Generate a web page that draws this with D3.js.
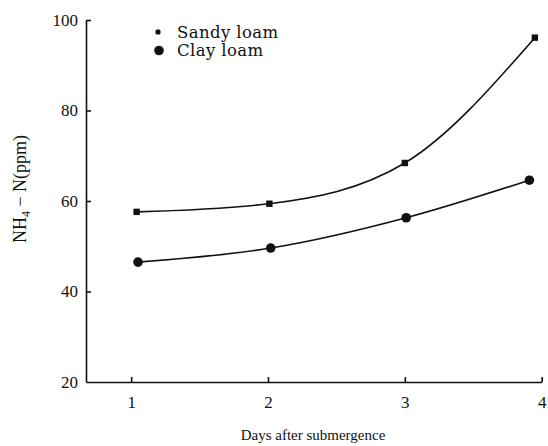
<!DOCTYPE html>
<html>
<head>
<meta charset="utf-8">
<script src="https://cdn.jsdelivr.net/npm/d3@7"></script>
<style>
  body { margin: 0; background: #fff; }
  svg text { font-family: "Liberation Serif", "Times New Roman", serif; fill: #111; }
  .axis path, .axis line { stroke: #111; stroke-width: 1.6; }
</style>
</head>
<body>
<div id="chart"></div>
<script>
// values (days are where the marks sit, not exactly on the ticks)
const dayTicks = [1, 2, 3, 4];
const nh4Ticks = [20, 40, 60, 80, 100];
const sandyDays = [1.04, 2.01, 3.00, 3.95];
const sandyNH4 = [57.6, 59.4, 68.4, 96.1];
const clayDays = [1.05, 2.02, 3.01, 3.91];
const clayNH4 = [46.5, 49.6, 56.3, 64.6];
const seriesNames = ["Sandy loam", "Clay loam"];

const width = 548, height = 446;

const svg = d3.select("#chart").append("svg")
    .attr("width", width)
    .attr("height", height);

const x = d3.scaleLinear()
    .domain([0.67, 4])
    .range([86, 541.7]);

const y = d3.scaleLinear()
    .domain([20, 100])
    .range([382, 20]);

const xAxis = d3.axisBottom(x)
    .tickValues(dayTicks)
    .tickFormat(d3.format("d"))
    .tickSizeInner(-5)
    .tickSizeOuter(0)
    .tickPadding(14);

const yAxis = d3.axisLeft(y)
    .tickValues(nh4Ticks)
    .tickSizeInner(-5)
    .tickSizeOuter(0)
    .tickPadding(8);

svg.append("g")
    .attr("class", "axis")
    .attr("transform", `translate(0, ${y(20)})`)
    .call(xAxis)
    .call(g => g.selectAll("text").style("font-size", "17px"));

svg.append("g")
    .attr("class", "axis")
    .attr("transform", `translate(${x(0.67)}, 0)`)
    .call(yAxis)
    .call(g => g.selectAll("text").style("font-size", "17px"))
    // no tick on the corner
    .call(g => g.selectAll(".tick").filter(d => d === 20).select("line").remove());

// axis titles
svg.append("text")
    .attr("x", 313)
    .attr("y", 440)
    .attr("text-anchor", "middle")
    .style("font-size", "15px")
    .text("Days after submergence");

const yTitle = svg.append("text")
    .attr("transform", "translate(26, 189) rotate(-90)")
    .attr("text-anchor", "middle")
    .style("font-size", "18px");
yTitle.append("tspan").text("NH");
yTitle.append("tspan").attr("dy", 4).style("font-size", "12px").text("4");
yTitle.append("tspan").attr("dy", -4).text(" \u2212 N(ppm)");

const line = d3.line()
    .x(d => x(d[0]))
    .y(d => y(d[1]))
    .curve(d3.curveMonotoneX);

const sandy = d3.zip(sandyDays, sandyNH4);
const clay = d3.zip(clayDays, clayNH4);

[sandy, clay].forEach(pts => {
    svg.append("path")
        .datum(pts)
        .attr("d", line)
        .attr("fill", "none")
        .attr("stroke", "#111")
        .attr("stroke-width", 1.6);
});

svg.selectAll(".sq")
    .data(sandy)
    .enter().append("rect")
    .attr("class", "sq")
    .attr("x", d => x(d[0]) - 3.2)
    .attr("y", d => y(d[1]) - 3.2)
    .attr("width", 6.4)
    .attr("height", 6.4)
    .attr("fill", "#111");

svg.selectAll(".dot")
    .data(clay)
    .enter().append("circle")
    .attr("class", "dot")
    .attr("cx", d => x(d[0]))
    .attr("cy", d => y(d[1]))
    .attr("r", 4.8)
    .attr("fill", "#111");

// legend
const legend = svg.append("g");
legend.append("rect")
    .attr("x", 155.5).attr("y", 29.5)
    .attr("width", 5).attr("height", 5)
    .attr("rx", 1.5)
    .attr("fill", "#111");
legend.append("circle")
    .attr("cx", 159).attr("cy", 50.5)
    .attr("r", 4.8)
    .attr("fill", "#111");
legend.selectAll("text")
    .data(seriesNames)
    .enter().append("text")
    .attr("x", 177)
    .attr("y", (d, i) => 37.5 + i * 18)
    .style("font-family", "'DejaVu Serif', serif")
    .style("font-size", "16.5px")
    .style("letter-spacing", "0.4px")
    .text(d => d);
</script>
</body>
</html>
